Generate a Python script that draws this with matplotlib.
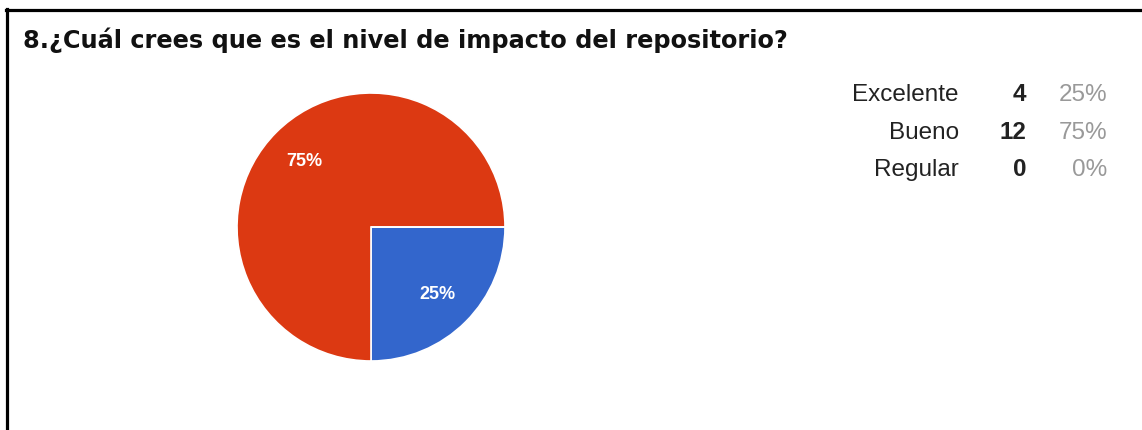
import matplotlib
matplotlib.use("Agg")
import matplotlib.pyplot as plt
from matplotlib.lines import Line2D

title = "8.¿Cuál crees que es el nivel de impacto del repositorio?"
categories = ["Excelente", "Bueno", "Regular"]
counts = [4, 12, 0]
colors = ["#3366cc", "#dc3912", "#ff9900"]

W, H = 1142, 431
fig = plt.figure(figsize=(W / 100, H / 100), dpi=100)
fig.patch.set_facecolor("white")
plt.rcParams["font.family"] = ["Liberation Sans", "DejaVu Sans"]

def fx(px):
    return px / W

def fy(py):
    return 1 - py / H

# frame lines (top and left)
fig.add_artist(Line2D([fx(6), fx(1142)], [fy(11), fy(11)], color="black", lw=2.3, transform=fig.transFigure))
fig.add_artist(Line2D([fx(7), fx(7)], [fy(10), fy(431)], color="black", lw=2.3, transform=fig.transFigure))

# title
fig.text(fx(23), fy(48), title, fontsize=17.3, fontweight="bold", color="#111111",
         va="baseline", ha="left", family=["DejaVu Sans"])

# pie
cx, cy, r = 371, 228, 134
ax = fig.add_axes([fx(cx - r), fy(cy + r), 2 * r / W, 2 * r / H])
total = sum(counts)

def fmt(p):
    return f"{p:.0f}%" if p > 0 else ""

wedges, texts, autotexts = ax.pie(
    counts, colors=colors, startangle=0, counterclock=False,
    autopct=fmt, pctdistance=0.7, radius=1,
    wedgeprops=dict(edgecolor="white", linewidth=1.2),
    textprops=dict(color="white", fontsize=13, fontweight="bold"),
)
ax.set_xlim(-1, 1)
ax.set_ylim(-1, 1)
ax.set_aspect("auto")
ax.axis("off")

# table
row_y = [101, 139, 176]
for cat, n, yy in zip(categories, counts, row_y):
    pct = f"{round(100 * n / total)}%"
    fig.text(fx(959), fy(yy), cat, fontsize=17.5, color="#222222", ha="right", va="baseline")
    fig.text(fx(1026), fy(yy), str(n), fontsize=17.5, fontweight="bold", color="#222222", ha="right", va="baseline")
    fig.text(fx(1107), fy(yy), pct, fontsize=17.5, color="#999999", ha="right", va="baseline")

fig.savefig("out.png", dpi=100, facecolor="white")
